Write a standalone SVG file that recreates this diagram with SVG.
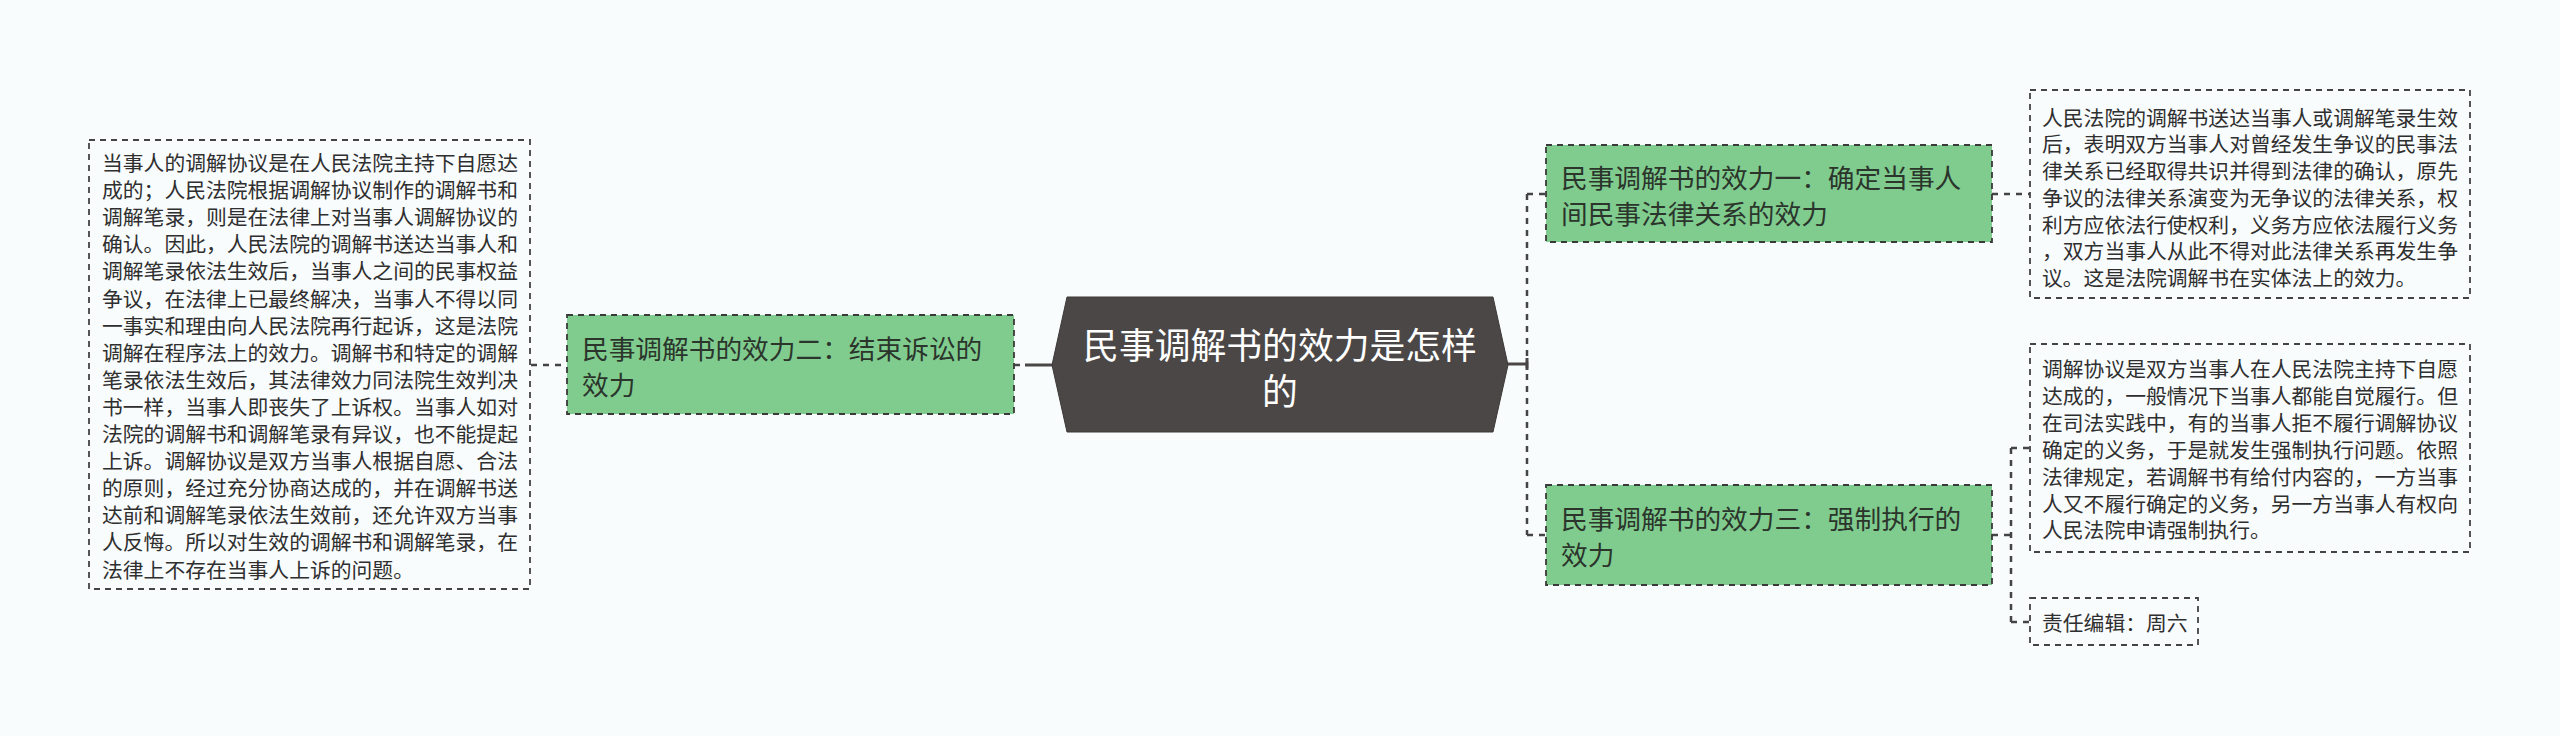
<svg xmlns="http://www.w3.org/2000/svg" width="2560" height="736" viewBox="0 0 2560 736">
<style>
.bg{fill:#f9fcfd}
.box{fill:#f9fcfd;stroke:#444;stroke-width:1.8;stroke-dasharray:6 5}
.green{fill:#80cc8f;stroke:#3a3a3a;stroke-width:1.8;stroke-dasharray:6 5}
.hex{fill:#4b4747;stroke:#3d3939;stroke-width:1}
.t{font-family:"Noto Sans CJK SC","Noto Sans",sans-serif;font-size:20.8px;fill:#2f2f2f;dominant-baseline:central}
.g{font-family:"Noto Sans CJK SC","Noto Sans",sans-serif;font-size:26.7px;fill:#2b352b;dominant-baseline:central}
.title{font-family:"Noto Sans CJK SC","Noto Sans",sans-serif;font-size:35.8px;fill:#ffffff;dominant-baseline:central;text-anchor:middle}
.dash{fill:none;stroke:#444;stroke-width:2.5;stroke-dasharray:6 6}
.solid{fill:none;stroke:#4b4747;stroke-width:3}
</style>
<rect class="bg" x="0" y="0" width="2560" height="736"/>
<g id="connectors">
<line class="dash" x1="531" y1="365" x2="567" y2="365"/>
<line class="dash" x1="1014" y1="365" x2="1021" y2="365"/>
<line class="solid" x1="1025" y1="365" x2="1053" y2="365"/>
<line class="solid" x1="1507" y1="364" x2="1527" y2="364"/>
<line class="solid" x1="1527" y1="358" x2="1527" y2="370"/>
<line class="dash" x1="1527" y1="194" x2="1527" y2="535"/>
<line class="dash" x1="1527" y1="194" x2="1546" y2="194"/>
<line class="dash" x1="1527" y1="535" x2="1546" y2="535"/>
<line class="dash" x1="1992" y1="194" x2="2030" y2="194"/>
<line class="dash" x1="1992" y1="535" x2="2011" y2="535"/>
<line class="dash" x1="2011" y1="448" x2="2011" y2="622"/>
<line class="dash" x1="2011" y1="448" x2="2030" y2="448"/>
<line class="dash" x1="2011" y1="622" x2="2030" y2="622"/>
</g>
<g id="center">
<polygon class="hex" points="1052,365 1067,297 1493,297 1508,365 1493,432 1067,432"/>
<text class="title" x="1280" y="343">民事调解书的效力是怎样</text>
<text class="title" x="1280" y="389">的</text>
</g>
<g id="branch2">
<rect class="green" x="567" y="315" width="447" height="99"/>
<text class="g" x="582" y="347">民事调解书的效力二：结束诉讼的</text>
<text class="g" x="582" y="383">效力</text>
</g>
<g id="leaf2">
<rect class="box" x="89" y="140" width="441" height="449"/>
<text class="t" x="102" y="162">当事人的调解协议是在人民法院主持下自愿达</text>
<text class="t" x="102" y="189.1">成的；人民法院根据调解协议制作的调解书和</text>
<text class="t" x="102" y="216.2">调解笔录，则是在法律上对当事人调解协议的</text>
<text class="t" x="102" y="243.3">确认。因此，人民法院的调解书送达当事人和</text>
<text class="t" x="102" y="270.4">调解笔录依法生效后，当事人之间的民事权益</text>
<text class="t" x="102" y="297.5">争议，在法律上已最终解决，当事人不得以同</text>
<text class="t" x="102" y="324.6">一事实和理由向人民法院再行起诉，这是法院</text>
<text class="t" x="102" y="351.7">调解在程序法上的效力。调解书和特定的调解</text>
<text class="t" x="102" y="378.8">笔录依法生效后，其法律效力同法院生效判决</text>
<text class="t" x="102" y="405.9">书一样，当事人即丧失了上诉权。当事人如对</text>
<text class="t" x="102" y="433">法院的调解书和调解笔录有异议，也不能提起</text>
<text class="t" x="102" y="460.1">上诉。调解协议是双方当事人根据自愿、合法</text>
<text class="t" x="102" y="487.2">的原则，经过充分协商达成的，并在调解书送</text>
<text class="t" x="102" y="514.3">达前和调解笔录依法生效前，还允许双方当事</text>
<text class="t" x="102" y="541.4">人反悔。所以对生效的调解书和调解笔录，在</text>
<text class="t" x="102" y="568.5">法律上不存在当事人上诉的问题。</text>
</g>
<g id="branch1">
<rect class="green" x="1546" y="145" width="446" height="97"/>
<text class="g" x="1561" y="176">民事调解书的效力一：确定当事人</text>
<text class="g" x="1561" y="212">间民事法律关系的效力</text>
</g>
<g id="leaf1">
<rect class="box" x="2030" y="90" width="440" height="208"/>
<text class="t" x="2042" y="116.7">人民法院的调解书送达当事人或调解笔录生效</text>
<text class="t" x="2042" y="143.4">后，表明双方当事人对曾经发生争议的民事法</text>
<text class="t" x="2042" y="170.1">律关系已经取得共识并得到法律的确认，原先</text>
<text class="t" x="2042" y="196.8">争议的法律关系演变为无争议的法律关系，权</text>
<text class="t" x="2042" y="223.5">利方应依法行使权利，义务方应依法履行义务</text>
<text class="t" x="2042" y="250.2">，双方当事人从此不得对此法律关系再发生争</text>
<text class="t" x="2042" y="276.9">议。这是法院调解书在实体法上的效力。</text>
</g>
<g id="branch3">
<rect class="green" x="1546" y="485" width="446" height="100"/>
<text class="g" x="1561" y="517">民事调解书的效力三：强制执行的</text>
<text class="g" x="1561" y="553">效力</text>
</g>
<g id="leaf3">
<rect class="box" x="2030" y="344" width="440" height="208"/>
<text class="t" x="2042" y="368">调解协议是双方当事人在人民法院主持下自愿</text>
<text class="t" x="2042" y="394.9">达成的，一般情况下当事人都能自觉履行。但</text>
<text class="t" x="2042" y="421.8">在司法实践中，有的当事人拒不履行调解协议</text>
<text class="t" x="2042" y="448.7">确定的义务，于是就发生强制执行问题。依照</text>
<text class="t" x="2042" y="475.6">法律规定，若调解书有给付内容的，一方当事</text>
<text class="t" x="2042" y="502.5">人又不履行确定的义务，另一方当事人有权向</text>
<text class="t" x="2042" y="529.4">人民法院申请强制执行。</text>
</g>
<g id="leaf4">
<rect class="box" x="2030" y="598" width="168" height="47"/>
<text class="t" x="2042" y="622">责任编辑：周六</text>
</g>
</svg>
